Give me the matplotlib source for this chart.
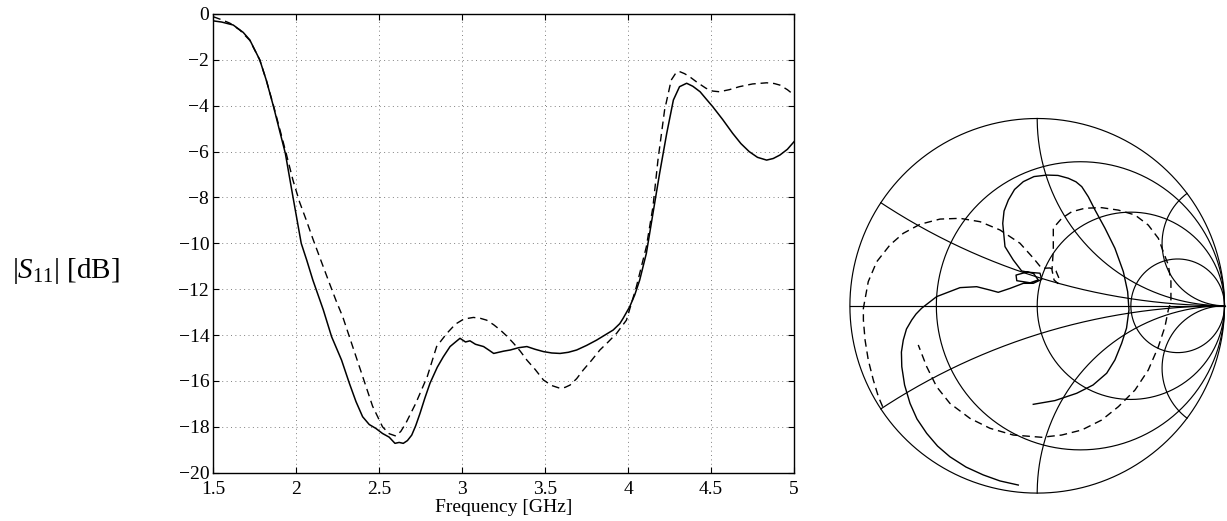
import numpy as np
import matplotlib
matplotlib.use("Agg")
import matplotlib.pyplot as plt

# ---------------- data ----------------
freq_solid = [1.50, 1.55, 1.62, 1.68, 1.72, 1.78, 1.82, 1.863, 1.90, 1.934, 1.98, 2.03, 2.063, 2.10,
              2.163, 2.213, 2.273, 2.32, 2.36, 2.40, 2.44, 2.48, 2.52, 2.56, 2.595, 2.62, 2.645, 2.67,
              2.696, 2.72, 2.746, 2.775, 2.806, 2.85, 2.886, 2.927, 2.96, 2.987, 3.02, 3.047, 3.08,
              3.129, 3.16, 3.19, 3.22, 3.25, 3.29, 3.34, 3.39, 3.44, 3.49, 3.54, 3.59, 3.64, 3.69,
              3.75, 3.81, 3.86, 3.91, 3.95, 3.97, 4.01, 4.04, 4.07, 4.11, 4.15, 4.19, 4.233, 4.273,
              4.31, 4.353, 4.39, 4.434, 4.47, 4.51, 4.57, 4.63, 4.68, 4.73, 4.78, 4.835, 4.875,
              4.915, 4.96, 5.0]
s11_solid = [-0.30, -0.35, -0.48, -0.80, -1.13, -2.00, -2.90, -4.04, -5.10, -6.07, -7.97, -10.0, -10.73,
             -11.6, -12.9, -14.07, -15.09, -16.1, -16.9, -17.56, -17.9, -18.07, -18.29, -18.45, -18.72,
             -18.68, -18.72, -18.6, -18.36, -17.95, -17.41, -16.75, -16.1, -15.4, -14.95, -14.5, -14.3,
             -14.14, -14.3, -14.25, -14.4, -14.5, -14.65, -14.8, -14.75, -14.7, -14.65, -14.55, -14.5,
             -14.62, -14.72, -14.78, -14.8, -14.75, -14.65, -14.45, -14.22, -14.0, -13.78, -13.5,
             -13.27, -12.76, -12.25, -11.6, -10.44, -8.69, -6.95, -5.2, -3.75, -3.17, -3.02, -3.15,
             -3.39, -3.7, -4.04, -4.6, -5.2, -5.65, -6.0, -6.25, -6.37, -6.3, -6.15, -5.9, -5.57]

freq_dash = [1.50, 1.55, 1.60, 1.66, 1.72, 1.78, 1.82, 1.863, 1.90, 1.94, 1.98, 2.02, 2.06, 2.10, 2.14,
             2.20, 2.24, 2.28, 2.34, 2.40, 2.46, 2.52, 2.56, 2.60, 2.63, 2.66, 2.72, 2.79, 2.846,
             2.907, 2.96, 3.01, 3.068, 3.11, 3.148, 3.19, 3.23, 3.27, 3.31, 3.35, 3.39, 3.44, 3.49,
             3.54, 3.59, 3.62, 3.65, 3.69, 3.73, 3.78, 3.83, 3.88, 3.93, 3.99, 4.05, 4.11, 4.15,
             4.18, 4.22, 4.26, 4.29, 4.31, 4.34, 4.37, 4.42, 4.47, 4.51, 4.55, 4.61, 4.67, 4.75,
             4.835, 4.88, 4.915, 4.96, 5.0]
s11_dash = [-0.12, -0.25, -0.40, -0.70, -1.15, -2.0, -2.9, -4.0, -5.0, -6.1, -7.24, -8.2, -8.98, -9.8,
            -10.58, -11.74, -12.5, -13.2, -14.5, -15.8, -17.1, -18.0, -18.3, -18.4, -18.2, -17.85,
            -16.98, -15.8, -14.5, -13.93, -13.52, -13.3, -13.23, -13.27, -13.35, -13.55, -13.78,
            -14.05, -14.36, -14.7, -15.09, -15.5, -15.96, -16.2, -16.32, -16.28, -16.18, -15.9,
            -15.52, -15.1, -14.65, -14.3, -13.93, -13.35, -11.89, -10.15, -8.4, -6.37, -4.19,
            -2.88, -2.55, -2.51, -2.6, -2.73, -3.0, -3.24, -3.36, -3.39, -3.3, -3.17, -3.05, -3.0,
            -3.03, -3.1, -3.3, -3.53]

# Smith-chart traces (reflection coefficient, real / imaginary parts)
gam_solid_re = [-0.101, -0.199, -0.288, -0.380, -0.466, -0.532, -0.590, -0.642, -0.679, -0.708, -0.723,
                -0.725, -0.715, -0.698, -0.670, -0.647, -0.617, -0.537, -0.412,
                -0.323, -0.252, -0.208, -0.145, -0.074, -0.021, 0.024, 0.015, -0.056, -0.113, -0.109,
                -0.038, 0.006, -0.021, -0.083, -0.128, -0.172, -0.184, -0.177, -0.154, -0.121, -0.074,
                -0.017, 0.051, 0.111, 0.166, 0.207,
                0.238, 0.273, 0.309, 0.362, 0.415, 0.460, 0.483, 0.490, 0.477, 0.451, 0.415, 0.371,
                0.298, 0.211, 0.095, -0.021]
gam_solid_im = [-0.957, -0.935, -0.903, -0.861, -0.806, -0.749, -0.681, -0.604, -0.521, -0.423, -0.325,
                -0.247, -0.183, -0.124, -0.076, -0.044, -0.013, 0.049, 0.097,
                0.102, 0.084, 0.072, 0.093, 0.120, 0.120, 0.141, 0.174, 0.180, 0.164, 0.134, 0.123,
                0.138, 0.174, 0.186, 0.245, 0.316, 0.440, 0.506, 0.565, 0.621, 0.663,
                0.690, 0.698, 0.696, 0.681, 0.662,
                0.636, 0.582, 0.511, 0.414, 0.307, 0.182, 0.075, -0.022, -0.119, -0.200, -0.289, -0.360,
                -0.423, -0.467, -0.506, -0.526]

gam_dash_re = [-0.825, -0.848, -0.875, -0.902, -0.919, -0.928, -0.928, -0.902, -0.857, -0.786, -0.715,
               -0.626, -0.519, -0.412, -0.305, -0.199, -0.092, -0.021, 0.024, 0.068, 0.100, 0.116,
               0.111, 0.090, 0.079, 0.086, 0.086, 0.131, 0.184, 0.255, 0.344, 0.433, 0.522, 0.593,
               0.647, 0.673, 0.700, 0.714, 0.714, 0.700, 0.682, 0.647, 0.593, 0.522, 0.433, 0.344,
               0.238, 0.131, 0.024, -0.128, -0.252, -0.359, -0.466, -0.537, -0.590, -0.635]
gam_dash_im = [-0.539, -0.485, -0.396, -0.289, -0.183, -0.076, -0.013, 0.129, 0.235, 0.325, 0.387,
               0.435, 0.463, 0.467, 0.449, 0.405, 0.334, 0.255, 0.200, 0.202, 0.186, 0.148, 0.119,
               0.138, 0.191, 0.298, 0.415, 0.467, 0.502, 0.521, 0.524, 0.511, 0.485, 0.431, 0.360,
               0.289, 0.218, 0.129, 0.022, -0.022, -0.112, -0.218, -0.343, -0.450, -0.539, -0.610,
               -0.663, -0.690, -0.702, -0.690, -0.654, -0.601, -0.521, -0.432, -0.325, -0.209]

smith_r = [0.3, 1.0, 3.0]
smith_x = [0.3, 1.0, 3.0]

x_ticks = [1.5, 2, 2.5, 3, 3.5, 4, 4.5, 5]
x_tick_labels = ["1.5", "2", "2.5", "3", "3.5", "4", "4.5", "5"]
y_ticks = [0, -2, -4, -6, -8, -10, -12, -14, -16, -18, -20]
y_tick_labels = ["0", "\u22122", "\u22124", "\u22126", "\u22128", "\u221210", "\u221212",
                 "\u221214", "\u221216", "\u221218", "\u221220"]

# ---------------- style ----------------
plt.rcParams['font.family'] = ['Liberation Serif', 'DejaVu Serif']
plt.rcParams['mathtext.fontset'] = 'custom'
plt.rcParams['mathtext.rm'] = 'Liberation Serif'
plt.rcParams['mathtext.it'] = 'Liberation Serif:italic'

W, H = 1227, 521
fig = plt.figure(figsize=(W / 100, H / 100), dpi=100)

# ---------------- left: |S11| ----------------
ax_l, ax_r, ax_t, ax_b = 213.3, 794.0, 14.0, 472.7
ax = fig.add_axes([ax_l / W, 1 - ax_b / H, (ax_r - ax_l) / W, (ax_b - ax_t) / H])
ax.plot(freq_solid, s11_solid, color='black', lw=1.1, solid_joinstyle='round')
ax.plot(freq_dash, s11_dash, color='black', lw=1.0, linestyle=(0, (5.5, 3.5)))
ax.set_xlim(1.5, 5)
ax.set_ylim(-20, 0)
ax.set_xticks(x_ticks)
ax.set_xticklabels(x_tick_labels)
ax.set_yticks(y_ticks)
ax.set_yticklabels(y_tick_labels)
ax.tick_params(direction='in', length=4.5, width=0.8, top=True, right=True,
               labelsize=14, pad=3, colors='black')
ax.tick_params(axis='x', pad=6)
ax.grid(True, color='0.5', linestyle=(0, (1, 3.5)), lw=0.7)
for s in ax.spines.values():
    s.set_linewidth(1.0)
ax.set_xlabel('Frequency [GHz]', fontsize=14, labelpad=1)
fig.text(66 / W, 1 - 271 / H, r'$|S_{11}|$ [dB]', fontsize=21, ha='center', va='center')

# ---------------- right: Smith chart ----------------
cx, cy, R = 1037.2, 305.8, 187.3
pad = 1.03
axs = fig.add_axes([(cx - R * pad) / W, 1 - (cy + R * pad) / H, 2 * R * pad / W, 2 * R * pad / H])
axs.set_xlim(-pad, pad)
axs.set_ylim(-pad, pad)
axs.axis('off')

glw = 0.85
t = np.linspace(0, 2 * np.pi, 721)
axs.plot(np.cos(t), np.sin(t), color='black', lw=glw)
axs.plot([-1, 1], [0, 0], color='black', lw=glw)
for r in smith_r:
    c, rad = r / (1 + r), 1 / (1 + r)
    axs.plot(c + rad * np.cos(t), rad * np.sin(t), color='black', lw=glw)
for xv in smith_x:
    rad = 1 / xv
    px, py = (xv ** 2 - 1) / (xv ** 2 + 1), 2 * xv / (xv ** 2 + 1)
    phi = np.arctan2(py - rad, px - 1)
    if phi > -np.pi / 2:
        phi -= 2 * np.pi
    th = np.linspace(-np.pi / 2, phi, 400)
    xs = 1 + rad * np.cos(th)
    ys = rad + rad * np.sin(th)
    axs.plot(xs, ys, color='black', lw=glw)
    axs.plot(xs, -ys, color='black', lw=glw)

axs.plot(gam_solid_re, gam_solid_im, color='black', lw=1.0, solid_joinstyle='round')
axs.plot(gam_dash_re, gam_dash_im, color='black', lw=1.0, linestyle=(0, (5.5, 3.5)))

fig.savefig('out.png', dpi=100)
